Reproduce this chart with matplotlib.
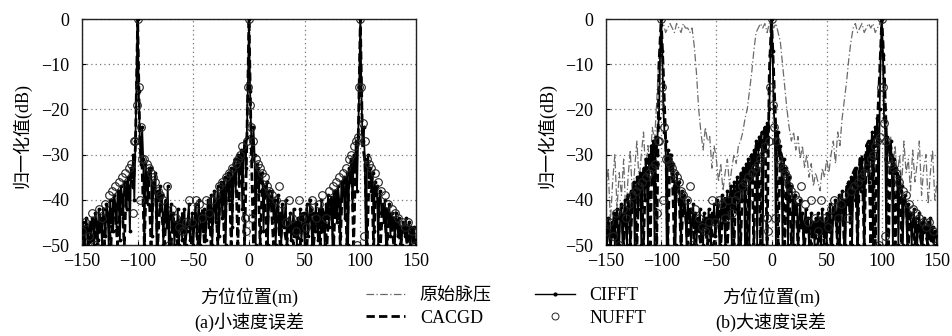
import numpy as np
import matplotlib
matplotlib.use("Agg")
import matplotlib.pyplot as plt
from matplotlib.lines import Line2D

plt.rcParams['font.family'] = ['Liberation Serif', 'Noto Sans CJK SC']
plt.rcParams['axes.unicode_minus'] = True

# ---------------- data ----------------
x_ticks = [-150, -100, -50, 0, 50, 100, 150]
y_ticks = [0, -10, -20, -30, -40, -50]

# (a) small velocity error, CIFFT, 1 m spacing, -150..150
a_cifft = [
    -48, -45, -50, -46, -44, -50, -47, -45, -49, -44,
    -46, -50, -43, -45, -49, -42, -47, -44, -50, -42,
    -44, -48, -41, -43, -50, -40, -45, -42, -47, -39,
    -41, -46, -38, -40, -49, -37, -39, -44, -36, -38,
    -42, -35, -37, -47, -33, -35, -30, -40, -27, -15,
    0,
    -16, -27, -32, -24, -31, -50, -32, -34, -41, -33,
    -35, -33, -48, -36, -38, -34, -50, -38, -40, -37,
    -41, -39, -50, -43, -40, -46, -37, -50, -44, -41,
    -46, -43, -50, -45, -48, -42, -50, -46, -44, -49,
    -45, -42, -50, -47, -44, -41, -49, -46, -43, -50,
    -45, -41, -48, -44, -40, -50, -46, -43, -47, -42,
    -49, -44, -40, -46, -43, -39, -50, -42, -38, -45,
    -41, -37, -48, -40, -36, -44, -38, -35, -50, -37,
    -34, -40, -36, -33, -46, -35, -31, -38, -33, -30,
    -36, -31, -29, -42, -30, -27, -33, -26, -15,
    0,
    -16, -26, -31, -24, -30, -50, -32, -33, -38, -34,
    -36, -34, -47, -37, -39, -36, -50, -38, -40, -41,
    -38, -44, -40, -50, -42, -39, -46, -43, -50, -41,
    -46, -44, -40, -50, -45, -47, -43, -49, -46, -42,
    -48, -45, -50, -44, -47, -42, -49, -46, -43, -50,
    -45, -41, -48, -44, -40, -46, -50, -43, -47, -41,
    -45, -49, -42, -46, -40, -47, -43, -50, -41, -44,
    -39, -46, -42, -40, -50, -38, -43, -39, -45, -37,
    -40, -48, -36, -39, -35, -44, -37, -34, -50, -33,
    -36, -31, -42, -30, -33, -27, -38, -26, -15,
    0,
    -16, -27, -24, -31, -50, -32, -30, -35, -33, -38,
    -34, -47, -36, -39, -37, -50, -40, -38, -43, -41,
    -45, -40, -50, -42, -44, -41, -48, -43, -46, -44,
    -50, -43, -45, -48, -44, -47, -50, -45, -46, -48,
    -44, -49, -46, -45, -50, -47, -48, -46, -49, -50,
]

# (a) CACGD, 2 m spacing, -150..150
a_cacgd = [
    -47, -50, -45, -48, -50, -44, -47, -50, -43, -46,
    -50, -42, -45, -50, -40, -44, -50, -38, -42, -50,
    -36, -40, -33, -38, -28,
    0,
    -28, -33, -50, -34, -36,
    -50, -37, -39, -50, -41, -44, -50, -42, -46, -50,
    -44, -47, -50, -45, -43, -50, -46, -44, -50, -47,
    -43, -50, -45, -42, -50, -44, -41, -50, -43, -40,
    -50, -39, -36, -50, -37, -34, -50, -35, -32, -50,
    -31, -29, -50, -28,
    0,
    -28, -50, -33, -34, -50,
    -36, -38, -50, -39, -41, -50, -43, -44, -50, -45,
    -47, -50, -44, -46, -50, -45, -48, -50, -43, -47,
    -50, -44, -42, -50, -45, -43, -50, -42, -44, -50,
    -41, -39, -50, -38, -40, -50, -36, -35, -50, -33,
    -31, -50, -29, -28,
    0,
    -28, -31, -50, -34, -36,
    -50, -38, -40, -50, -42, -44, -50, -43, -45, -50,
    -46, -44, -50, -47, -45, -50, -48, -46, -50, -49,
]

# NUFFT circles (same in both panels)
nufft_x = [
    -150, -147, -144, -141, -138, -135, -132, -129, -126, -123,
    -120, -117, -114, -111, -108, -106, -104, -103, -102, -101,
    -100, -99, -98, -97, -96, -94, -92, -90, -88, -86,
    -84, -82, -80, -77, -74, -72, -69, -66, -63, -60,
    -57, -54, -51, -48, -45, -42, -39, -36, -33, -30,
    -27, -24, -21, -18, -15, -12, -10, -8, -6, -4,
    -3, -2, -1, 0, 1, 2, 3, 4, 6, 8,
    10, 12, 14, 16, 18, 21, 24, 27, 30, 33,
    36, 39, 42, 45, 48, 51, 54, 57, 60, 63,
    66, 69, 72, 75, 78, 81, 84, 87, 90, 92,
    94, 96, 97, 98, 99, 100, 101, 102, 103, 104,
    106, 108, 110, 113, 116, 119, 122, 125, 128, 131,
    134, 137, 140, 143, 146, 150,
]
nufft_y = [
    -47, -45, -48, -43, -50, -42, -44, -41, -39, -38,
    -37, -36, -35, -34, -33, -32, -43, -27, -27, -19,
    0, -15, -40, -24, -31, -31, -32, -33, -34, -35,
    -36, -38, -39, -40, -37, -50, -42, -44, -46, -47,
    -45, -40, -45, -40, -41, -44, -40, -43, -40, -39,
    -37, -36, -35, -34, -33, -32, -31, -30, -28, -44,
    -47, -27, -15, 0, -19, -24, -44, -27, -31, -32,
    -33, -34, -35, -37, -38, -39, -40, -37, -41, -45,
    -40, -44, -47, -40, -44, -46, -42, -40, -44, -41,
    -39, -44, -38, -37, -36, -35, -34, -33, -31, -30,
    -28, -27, -50, -26, -15, 0, -15, -23, -48, -27,
    -31, -32, -33, -34, -36, -38, -39, -41, -42, -43,
    -44, -45, -46, -45, -47, -50,
]

# (b) large velocity error, CIFFT, 1 m spacing
b_cifft = [
    -46, -50, -44, -47, -50, -45, -48, -43, -50, -44,
    -42, -47, -50, -43, -41, -50, -44, -40, -46, -50,
    -39, -43, -50, -38, -41, -36, -50, -39, -35, -42,
    -37, -34, -50, -36, -33, -40, -31, -35, -50, -30,
    -33, -28, -36, -27, -50, -26, -30, -24, -22, -8,
    0,
    -7, -20, -25, -27, -50, -29, -31, -33, -30, -35,
    -32, -37, -50, -34, -38, -36, -40, -50, -38, -41,
    -39, -43, -50, -40, -44, -42, -50, -45, -41, -46,
    -43, -50, -44, -47, -42, -48, -45, -50, -43, -46,
    -44, -49, -42, -47, -50, -43, -45, -41, -48, -44,
    -40, -46, -50, -43, -39, -45, -41, -50, -42, -38,
    -44, -40, -37, -50, -41, -36, -42, -38, -35, -50,
    -37, -34, -40, -33, -36, -50, -32, -35, -31, -50,
    -33, -30, -36, -29, -32, -27, -50, -30, -26, -28,
    -25, -50, -27, -24, -29, -23, -26, -20, -8,
    0,
    -7, -20, -24, -50, -27, -25, -30, -28, -32, -50,
    -31, -34, -33, -36, -50, -35, -38, -37, -40, -50,
    -39, -42, -41, -50, -44, -40, -46, -43, -50, -45,
    -42, -47, -44, -50, -46, -43, -48, -45, -50, -44,
    -47, -43, -49, -45, -50, -42, -46, -48, -44, -50,
    -43, -47, -41, -45, -50, -42, -44, -40, -47, -43,
    -39, -50, -42, -38, -44, -40, -50, -37, -41, -36,
    -43, -35, -50, -38, -34, -40, -33, -50, -36, -32,
    -38, -31, -35, -50, -30, -33, -28, -36, -27, -31,
    -25, -50, -28, -24, -26, -22, -50, -20, -7,
    0,
    -8, -22, -24, -50, -26, -28, -30, -27, -32, -50,
    -31, -34, -33, -36, -50, -35, -38, -37, -50, -40,
    -39, -42, -50, -41, -44, -43, -50, -45, -42, -47,
    -44, -50, -46, -43, -48, -45, -50, -44, -47, -46,
    -50, -45, -48, -44, -49, -46, -50, -47, -48, -50,
]

# (b) CACGD, 2 m spacing
b_cacgd = [
    -48, -45, -50, -46, -43, -50, -44, -41, -50, -42,
    -39, -50, -40, -37, -50, -36, -34, -50, -33, -31,
    -50, -29, -27, -50, -10,
    0,
    -12, -26, -50, -30, -33,
    -50, -36, -38, -50, -41, -43, -50, -44, -42, -50,
    -45, -47, -50, -44, -46, -50, -43, -47, -50, -45,
    -41, -50, -43, -39, -50, -40, -38, -50, -37, -36,
    -50, -34, -33, -50, -31, -30, -50, -28, -27, -50,
    -26, -24, -50, -12,
    0,
    -12, -25, -50, -29, -31,
    -50, -34, -36, -50, -39, -41, -50, -43, -45, -50,
    -44, -47, -50, -45, -48, -50, -44, -46, -50, -43,
    -45, -50, -41, -43, -50, -39, -40, -50, -37, -36,
    -50, -34, -33, -50, -31, -30, -50, -28, -27, -50,
    -26, -50, -23, -12,
    0,
    -10, -25, -50, -28, -31,
    -50, -34, -36, -50, -39, -41, -50, -43, -44, -50,
    -45, -47, -50, -46, -48, -50, -47, -49, -50, -50,
]

# (b) original pulse compression, 2 m spacing
b_orig = [
    -38, -33, -45, -36, -30, -42, -34, -39, -31, -44,
    -35, -29, -40, -33, -27, -36, -30, -25, -34, -28,
    -32, -24, -27, -18, -8,
    -2,
    -1, -3, -2, -1, -2,
    -3, -1, -2, -3, -1, -2, -2, -3, -2, -6,
    -12, -20, -25, -29, -24, -27, -26, -33, -28, -31,
    -36, -32, -38, -34, -31, -37, -33, -30, -32, -28,
    -27, -25, -22, -20, -16, -12, -7, -3, -2, -1,
    -2, -1, -3, -1,
    -1,
    -2, -1, -3, -5, -10,
    -15, -20, -24, -27, -25, -29, -26, -31, -28, -33,
    -30, -35, -32, -37, -34, -36, -38, -33, -35, -31,
    -34, -30, -27, -32, -25, -28, -22, -18, -14, -9,
    -5, -2, -1, -3, -2, -1, -3, -2, -1, -2,
    -1, -3, -2, -1,
    -2,
    -12, -24, -30, -26, -33,
    -28, -35, -30, -37, -27, -34, -31, -38, -29, -36,
    -32, -27, -39, -33, -30, -41, -34, -29, -40, -36,
]

fig = plt.figure(figsize=(9.52, 3.36), dpi=100)
ax_a = fig.add_axes([82/952, 91/336, 334/952, 226/336])
ax_b = fig.add_axes([606/952, 91/336, 331/952, 226/336])

TF = 13
DASHDOT = (0, (6, 2, 1, 2))
DASHED = (0, (3, 1.5))


def style(ax):
    ax.set_xlim(-150, 150)
    ax.set_ylim(-50, 0)
    ax.set_xticks(x_ticks)
    ax.set_yticks(y_ticks)
    ax.grid(True, linestyle=(0, (1, 2.5)), color='#777777', linewidth=0.9)
    ax.tick_params(direction='in', length=3, labelsize=TF, pad=6)
    ax.tick_params(axis='y', pad=9)
    for s in ax.spines.values():
        s.set_linewidth(1.0)
        s.set_color('#222222')


def draw(ax, cifft, cacgd, orig=None):
    if orig is not None:
        ax.plot(np.linspace(-150, 150, len(orig)), orig, color='#6a6a6a',
                linestyle=DASHDOT, linewidth=0.9, zorder=2)
    ax.plot(np.linspace(-150, 150, len(cifft)), cifft, color='black', linewidth=1.3,
            marker='.', markersize=3.5, zorder=3)
    ax.plot(np.linspace(-150, 150, len(cacgd)), cacgd, color='black', linewidth=2.0,
            linestyle=DASHED, zorder=4)
    ax.plot(nufft_x, nufft_y, linestyle='none', marker='o', markersize=5.5,
            markerfacecolor='none', markeredgecolor='#222222', markeredgewidth=0.8,
            zorder=5)
    style(ax)


draw(ax_a, a_cifft, a_cacgd)
draw(ax_b, b_cifft, b_cacgd, b_orig)

for cx, cap in [(249, '(a)小速度误差'), (771, '(b)大速度误差')]:
    fig.text(cx/952, 1-297/336, '方位位置(m)', ha='center', va='center', fontsize=TF)
    fig.text(cx/952, 1-322/336, cap, ha='center', va='center', fontsize=TF)
for yx in [22, 547]:
    fig.text(yx/952, 1-135/336, '归一化值(dB)', rotation=90,
             ha='center', va='center', fontsize=TF)

handles = [
    Line2D([], [], color='#6a6a6a', linestyle=DASHDOT, linewidth=0.9),
    Line2D([], [], color='black', linestyle=DASHED, linewidth=2.0),
    Line2D([], [], color='black', linewidth=1.0, marker='.', markersize=4),
    Line2D([], [], linestyle='none', marker='o', markersize=5, markerfacecolor='none',
           markeredgecolor='#222222', markeredgewidth=0.7),
]
labels = ['原始脉压', 'CACGD', 'CIFFT', 'NUFFT']
fig.legend(handles, labels, ncol=2, loc='center', bbox_to_anchor=(506/952, 1-307/336),
           frameon=False, fontsize=TF, handlelength=2.2, columnspacing=2.4,
           labelspacing=0.3, handletextpad=0.8)

fig.savefig('out.png', dpi=100)
